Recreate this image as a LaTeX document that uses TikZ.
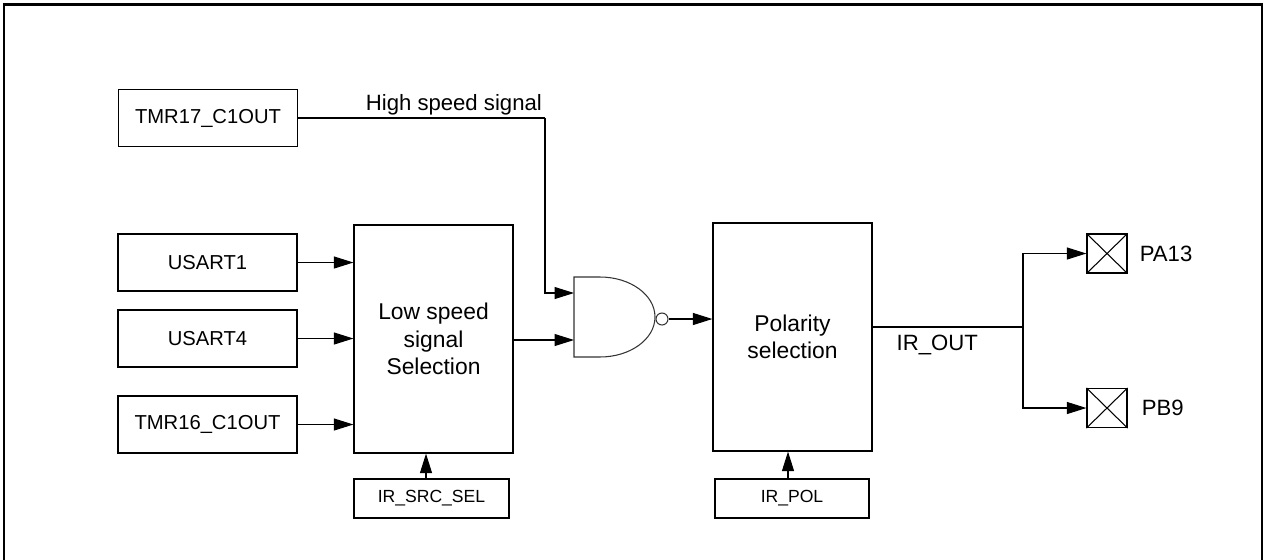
\documentclass[tikz,border=0pt]{standalone}
\usepackage{fontspec}
\setmainfont{Liberation Sans}
\usetikzlibrary{arrows.meta, positioning}

\begin{document}
\begin{tikzpicture}[
    x=0.02cm, y=-0.02cm,
    every node/.style={font=\fontsize{12.6}{15.5}\selectfont},
    src/.style={draw, line width=0.7pt, minimum width=3.58cm, minimum height=1.14cm, align=center, font=\fontsize{11.5}{14}\selectfont},
    blk/.style={draw, line width=0.7pt, minimum width=3.18cm, minimum height=4.56cm, align=center, font=\fontsize{13}{15.5}\selectfont},
    reg/.style={draw, line width=0.7pt, minimum width=3.1cm, minimum height=0.78cm, font=\fontsize{10}{12}\selectfont},
    pad/.style={draw, line width=0.7pt, minimum width=0.8cm, minimum height=0.78cm, inner sep=0pt},
    ar/.style={-{Triangle[length=3.9mm, width=2.4mm]}, line width=0.6pt},
    wire/.style={line width=0.6pt}
]
\useasboundingbox (0,0) rectangle (1267,559);
% frame
\draw[line width=1.2pt] (4,565) -- (4,4.5) (1262,4.5) -- (1262,565);
\draw[line width=1.7pt] (3,4.5) -- (1263,4.5);

% sources
\node[src] (t17) at (208,118) {TMR17\_C1OUT};
\node[src] (u1) at (207.5,262.5) {USART1};
\node[src] (u4) at (207.5,338.5) {USART4};
\node[src] (t16) at (207.5,424.5) {TMR16\_C1OUT};

% blocks
\node[blk] (low) at (433.5,339) {Low speed\\signal\\Selection};
\node[blk] (pol) at (792.5,337) {Polarity\\selection};
\node[reg] (srcsel) at (431.5,498.5) {IR\_SRC\_SEL};
\node[reg, minimum width=3.08cm] (irpol) at (792,498.5) {IR\_POL};

% NAND gate
\coordinate (gin1) at (574,293);
\coordinate (gin2) at (574,340);
\draw[line width=0.6pt, black!80] (574,277) -- (600,277)
    arc[start angle=90, end angle=-90, x radius=1.1cm, y radius=0.8cm]
    -- (574,357) -- cycle;
\node[circle, draw, black!80, line width=0.6pt, minimum size=0.24cm, inner sep=0pt] (bub) at (662,319) {};

% outputs
\coordinate (br) at (1023,327);
\coordinate (hs) at (545,118);
\node[pad] (pa) at (1107,253.5) {};
\node[pad] (pb) at (1107,408) {};
\draw[wire] (pa.north west) -- (pa.south east) (pa.south west) -- (pa.north east);
\draw[wire] (pb.north west) -- (pb.south east) (pb.south west) -- (pb.north east);
\node[right=0.12cm of pa] (palbl) {PA13};
\node[right=0.16cm of pb] (pblbl) {PB9};

% connections
\draw[wire] (t17.east |- hs) -- node[anchor=south east, inner sep=1.5pt, pos=1] (hslbl) {High speed signal} (hs);
\draw[ar] (hs) |- (gin1);
\draw[ar] (u1.east) -- (low.west |- u1.east);
\draw[ar] (u4.east) -- (low.west |- u4.east);
\draw[ar] (t16.east) -- (low.west |- t16.east);
\draw[ar] (low.east |- gin2) -- (gin2);
\draw[ar] (bub.east) -- (pol.west |- bub.east);
\draw[ar] (srcsel.north -| 426,0) -- (low.south -| 426,0);
\draw[ar] (irpol.north -| 788,0) -- (pol.south -| 788,0);
\draw[wire] (pol.east |- br) -- node[below, pos=0.43, yshift=-1pt] (irout) {IR\_OUT} (br);
\draw[ar] (br) |- (pa.west);
\draw[ar] (br) |- (pb.west);
\end{tikzpicture}
\end{document}
